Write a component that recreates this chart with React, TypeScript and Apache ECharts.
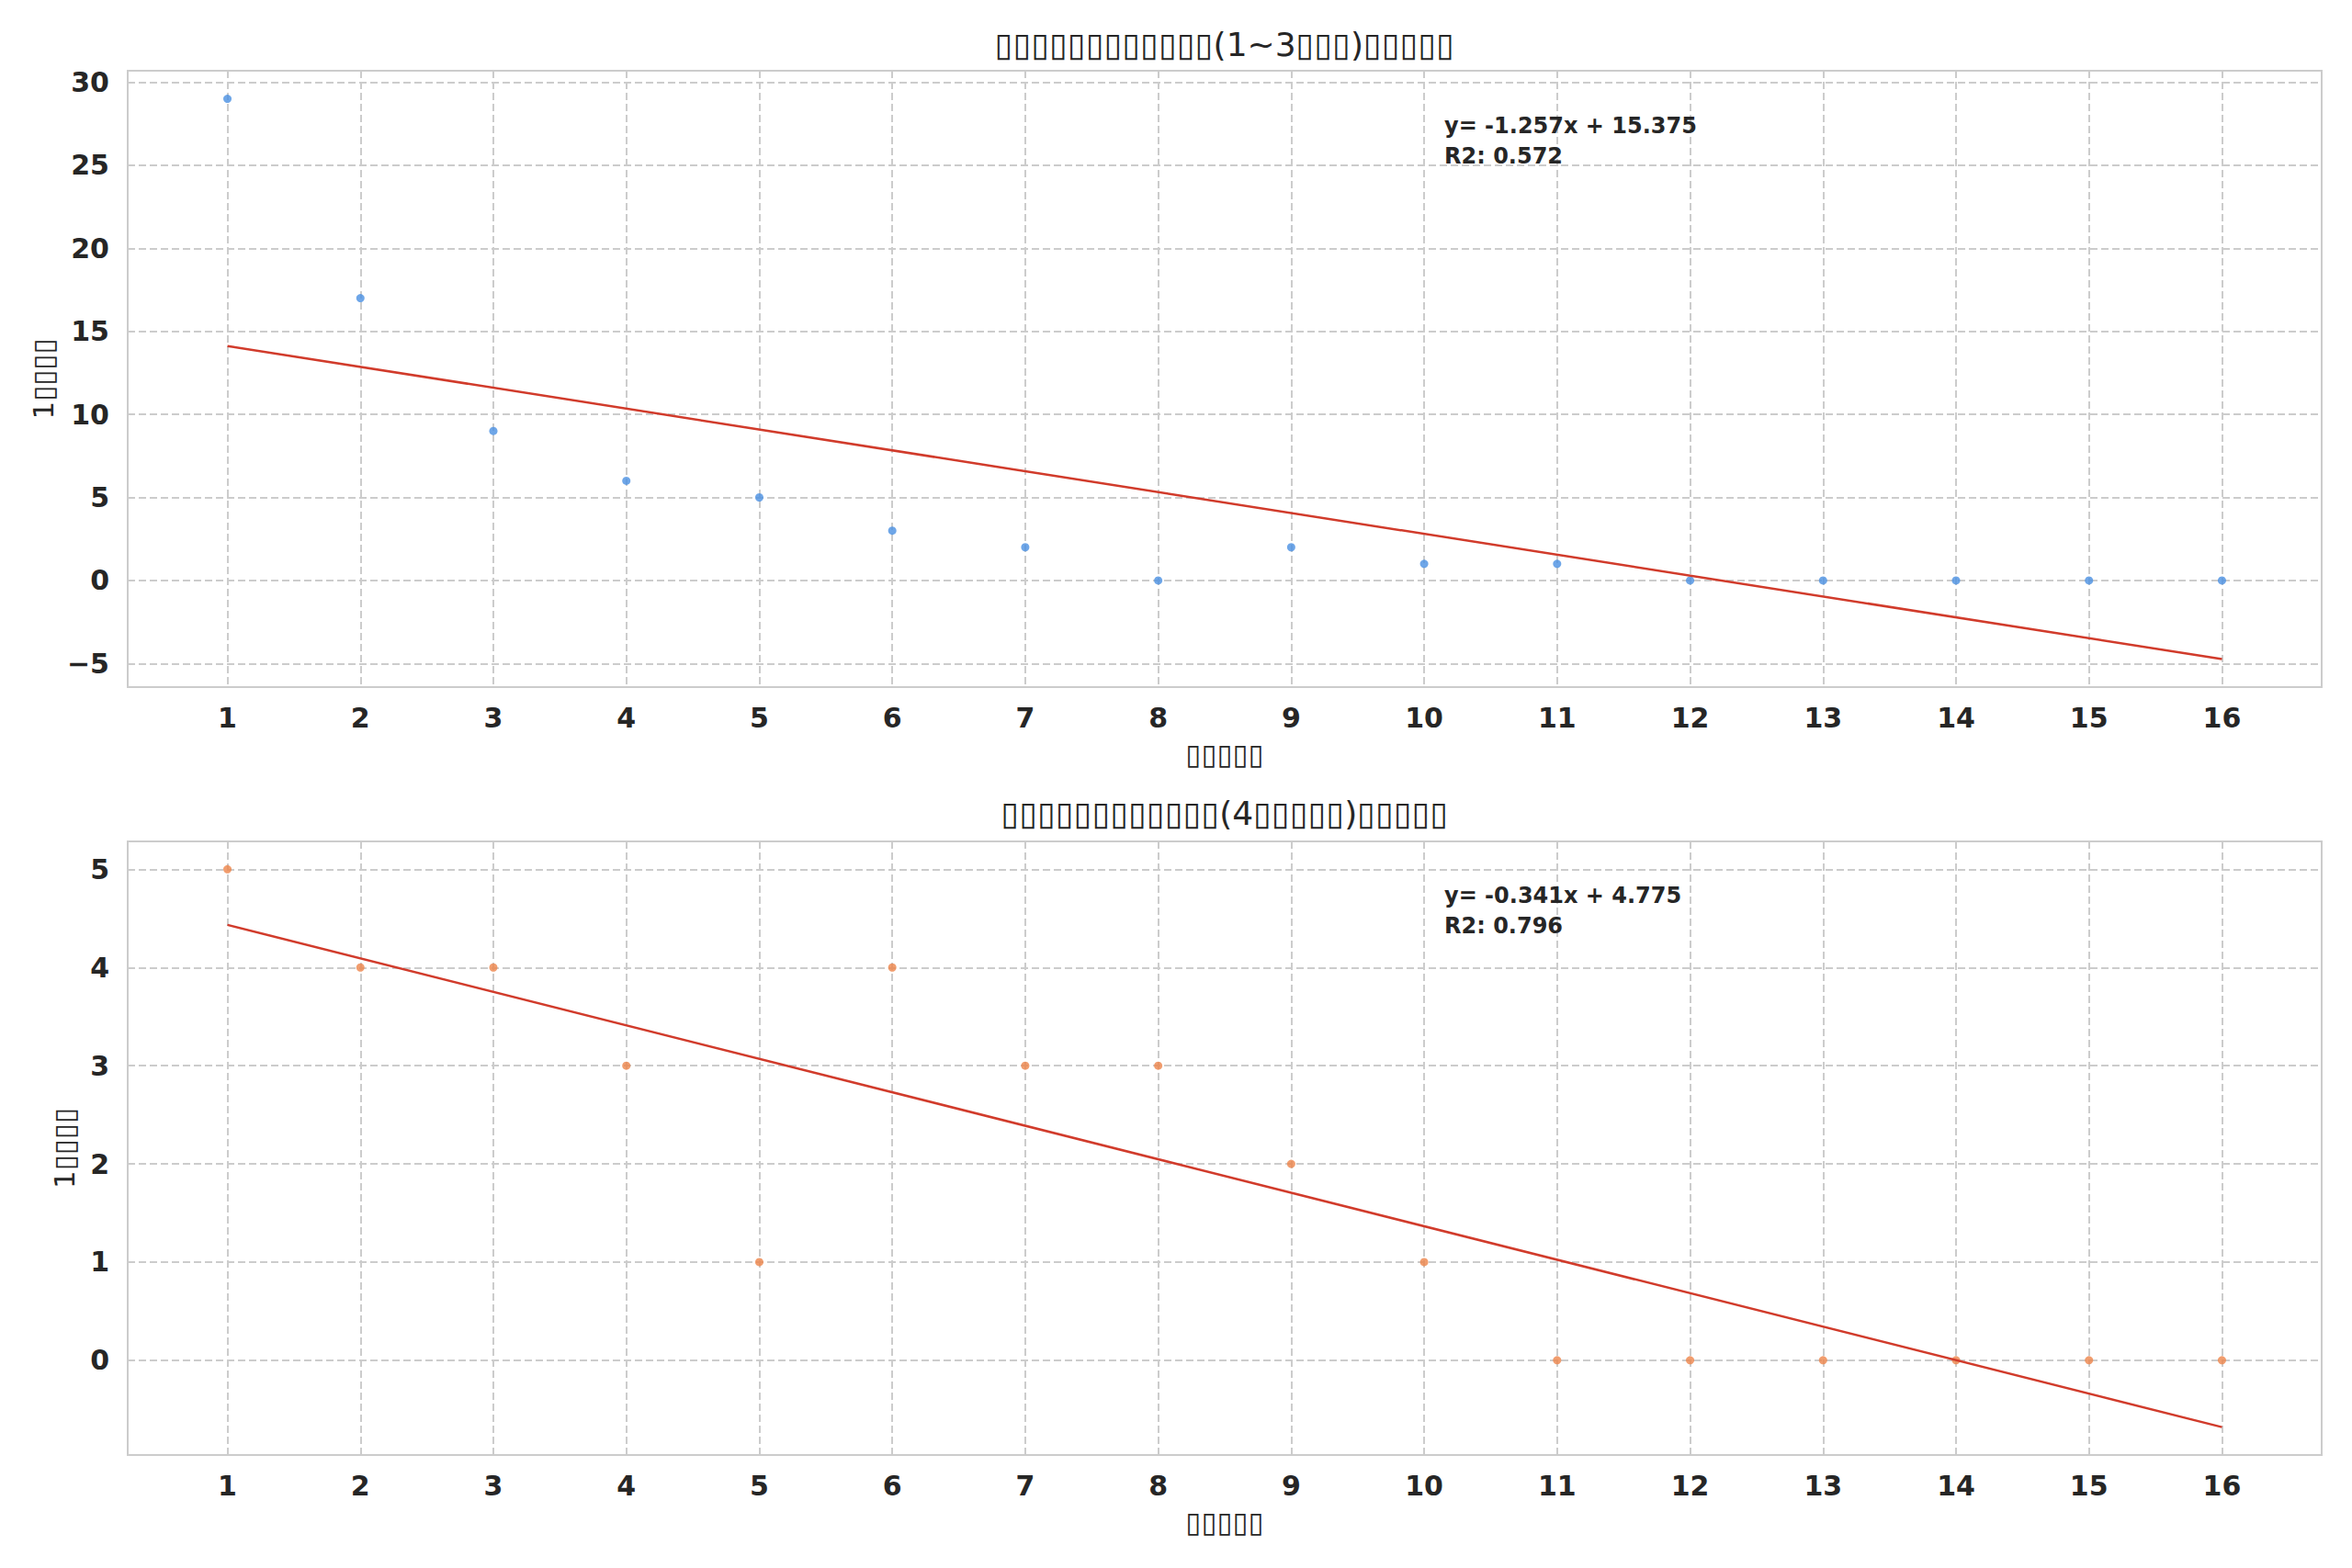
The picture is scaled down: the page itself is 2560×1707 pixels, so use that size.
import React, { useEffect, useRef } from "react";
import * as echarts from "echarts";

const B = "\u25AF";
const rep = (n: number) => B.repeat(n);

const xValues = [1, 2, 3, 4, 5, 6, 7, 8, 9, 10, 11, 12, 13, 14, 15, 16];
const counts1 = [29, 17, 9, 6, 5, 3, 2, 0, 2, 1, 1, 0, 0, 0, 0, 0];
const counts2 = [5, 4, 4, 3, 1, 4, 3, 3, 2, 1, 0, 0, 0, 0, 0, 0];
const fitLine1 = [[1, 14.118], [16, -4.737]];
const fitLine2 = [[1, 4.434], [16, -0.681]];
const fitText1 = ["y= -1.257x + 15.375", "R2: 0.572"];
const fitText2 = ["y= -0.341x + 4.775", "R2: 0.796"];
const title1 = rep(12) + "(1~3" + rep(3) + ")" + rep(5);
const title2 = rep(12) + "(4" + rep(5) + ")" + rep(5);
const xName = rep(5);
const yName = "1" + rep(4);
const yRange1 = [-6.42, 30.69];
const yRange2 = [-0.965, 5.284];
const xRange = [0.25, 16.75];

const FONT = "DejaVu Sans";
const TXT = "#262626";
const GRIDC = "#cccccc";

export default function App() {
  const ref = useRef<HTMLDivElement>(null);
  useEffect(() => {
    document.body.style.margin = "0";
    const chart = echarts.init(ref.current!, null, { renderer: "svg" });
    const L = 139, W = 2388;
    const grids = [
      { left: L, top: 77, width: W, height: 671 },
      { left: L, top: 916, width: W, height: 668 },
    ];
    const splitLine = {
      show: true,
      lineStyle: { color: GRIDC, width: 2, type: [8, 4] as any },
    };
    const axisLabel = {
      fontFamily: FONT,
      fontWeight: "bold" as const,
      fontSize: 30,
      color: TXT,
      showMinLabel: false,
      showMaxLabel: false,
      formatter: (v: number) => String(v).replace("-", "\u2212"),
    };
    const nameStyle = { fontFamily: FONT, fontSize: 31, color: TXT };
    const mkX = (gi: number) => ({
      type: "value" as const,
      gridIndex: gi,
      min: xRange[0],
      max: xRange[1],
      splitNumber: 16,
      axisLine: { show: false },
      axisTick: { show: false },
      splitLine,
      axisLabel: { ...axisLabel, margin: 18 },
      name: xName,
      nameLocation: "middle" as const,
      nameGap: 57,
      nameTextStyle: nameStyle,
    });
    const mkY = (gi: number, r: number[], split: number, gap: number) => ({
      type: "value" as const,
      gridIndex: gi,
      min: r[0],
      max: r[1],
      splitNumber: split,
      axisLine: { show: false },
      axisTick: { show: false },
      splitLine,
      axisLabel: { ...axisLabel, margin: 20 },
      name: yName,
      nameLocation: "middle" as const,
      nameGap: gap,
      nameTextStyle: nameStyle,
    });
    const scatter = (gi: number, vals: number[], color: string) => ({
      type: "scatter" as const,
      xAxisIndex: gi,
      yAxisIndex: gi,
      data: xValues.map((x, i) => [x, vals[i]]),
      symbolSize: 9,
      itemStyle: { color },
      z: 2,
    });
    const line = (gi: number, pts: number[][]) => ({
      type: "line" as const,
      xAxisIndex: gi,
      yAxisIndex: gi,
      data: pts,
      showSymbol: false,
      symbol: "none",
      lineStyle: { color: "#d13b2b", width: 2.5 },
      z: 3,
    });
    const textEl = (x: number, y: number, text: string, font: string, align: string, lh?: number) => ({
      type: "text" as const,
      x,
      y,
      z: 100,
      zlevel: 0,
      style: {
        text,
        font,
        fill: TXT,
        align,
        verticalAlign: align === "center" ? "middle" : "top",
        lineHeight: lh,
      },
    });
    chart.setOption({
      animation: false,
      backgroundColor: "#ffffff",
      grid: grids.map((g) => ({ ...g, show: true, borderColor: GRIDC, borderWidth: 2, backgroundColor: "transparent" })),
      xAxis: [mkX(0), mkX(1)],
      yAxis: [mkY(0, yRange1, 7, 77), mkY(1, yRange2, 6, 54)],
      series: [
        scatter(0, counts1, "#4a90e2"),
        line(0, fitLine1),
        scatter(1, counts2, "#ee854a"),
        line(1, fitLine2),
      ],
      graphic: {
        elements: [
          textEl(1333, 48, title1, `36px '${FONT}'`, "center"),
          textEl(1333, 885, title2, `36px '${FONT}'`, "center"),
          textEl(1572, 120, fitText1.join("\n"), `bold 24px '${FONT}'`, "left", 33),
          textEl(1572, 958, fitText2.join("\n"), `bold 24px '${FONT}'`, "left", 33),
        ],
      },
    });
    return () => chart.dispose();
  }, []);
  return <div ref={ref} style={{ width: 2560, height: 1707 }} />;
}
